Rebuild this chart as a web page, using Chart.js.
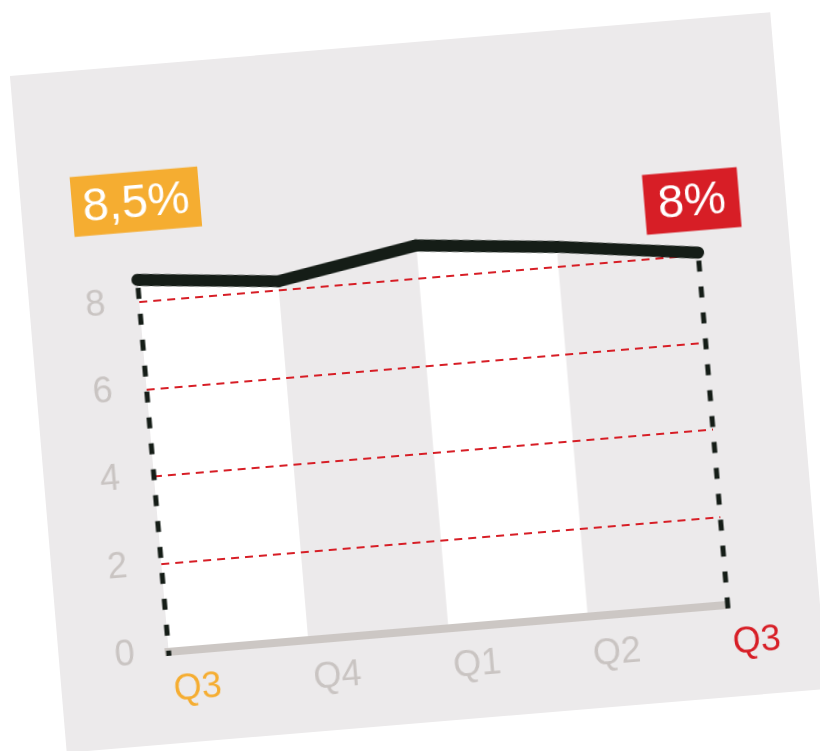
<!DOCTYPE html>
<html>
<head>
<meta charset="utf-8">
<script src="https://cdn.jsdelivr.net/npm/chart.js@4/dist/chart.umd.min.js"></script>
<style>
  html, body { margin: 0; padding: 0; background: #fff; }
  body { width: 820px; height: 751px; position: relative; overflow: hidden; }
  #panel {
    position: absolute; left: 37px; top: 43px;
    width: 763px; height: 679px;
    background: #ECEAEB;
    transform: rotate(-4.8deg);
  }
  #chart { position: absolute; left: 0; top: 0; }
</style>
</head>
<body>
<div id="panel"><canvas id="chart" width="763" height="679"></canvas></div>
<script>
// quarters and rate (%)
const quarters = ["Q3", "Q4", "Q1", "Q2", "Q3"];
const rates = [8.5, 8.2, 8.75, 8.45, 8.05];
const yTicks = [0, 2, 4, 6, 8];
const quarterColors = ["#F5AD31", "#C9C4C2", "#C9C4C2", "#C9C4C2", "#D71E26"];

// callouts above first / last point
const calloutIndex = [0, 4];
const calloutText = ["8,5%", "8%"];
const calloutColor = ["#F5AD31", "#D71E26"];

const FONT = "'Liberation Sans', Arial, sans-serif";

// dashed black drops + callout boxes
const extrasPlugin = {
  id: "extras",
  beforeDatasetsDraw(chart) {
    const ctx = chart.ctx;
    const meta = chart.getDatasetMeta(0);
    const y0 = chart.scales.y.getPixelForValue(0);
    ctx.save();
    ctx.strokeStyle = "#151D17";
    ctx.lineWidth = 5;
    ctx.setLineDash([11, 15]);
    [0, meta.data.length - 1].forEach(i => {
      const p = meta.data[i];
      ctx.beginPath();
      ctx.moveTo(p.x, p.y + 8);
      ctx.lineTo(p.x, y0 + 4);
      ctx.stroke();
    });
    ctx.restore();
  },
  afterDatasetsDraw(chart) {
    const ctx = chart.ctx;
    const meta = chart.getDatasetMeta(0);
    const boxes = [
      { w: 128, h: 60, dx: 5, dy: -78 },
      { w: 95, h: 60, dx: -2, dy: -52 }
    ];
    ctx.save();
    calloutIndex.forEach((idx, k) => {
      const p = meta.data[idx];
      const b = boxes[k];
      const cx = p.x + b.dx, cy = p.y + b.dy;
      ctx.fillStyle = calloutColor[k];
      ctx.fillRect(cx - b.w / 2, cy - b.h / 2, b.w, b.h);
      ctx.fillStyle = "#fff";
      ctx.font = "47px " + FONT;
      ctx.textAlign = "center";
      ctx.textBaseline = "middle";
      ctx.fillText(calloutText[k], cx, cy + 2);
    });
    ctx.restore();
  }
};

new Chart(document.getElementById("chart"), {
  type: "line",
  data: {
    labels: quarters,
    datasets: [{
      data: rates,
      borderColor: "#151D17",
      borderWidth: 12,
      borderCapStyle: "round",
      borderJoinStyle: "miter",
      tension: 0,
      pointRadius: 0,
      clip: false,
      fill: "origin",
      backgroundColor: "rgba(0,0,0,0)",
      segment: {
        backgroundColor: c => c.p0DataIndex % 2 === 0 ? "#FFFFFF" : "rgba(0,0,0,0)"
      }
    }]
  },
  options: {
    responsive: false,
    animation: false,
    layout: { padding: { left: 0, right: 92, top: 60, bottom: 0 } },
    plugins: {
      legend: { display: false },
      tooltip: { enabled: false },
      filler: { drawTime: "beforeDraw" }
    },
    scales: {
      x: {
        offset: false,
        grid: { drawOnChartArea: false, drawTicks: false, color: "rgba(0,0,0,0)" },
        border: { display: true, color: "#CCC7C4", width: 8 },
        ticks: {
          padding: 17,
          labelOffset: 26,
          maxRotation: 0,
          autoSkip: false,
          font: { family: FONT, size: 36 },
          color: c => quarterColors[c.index]
        },
        afterFit: s => { s.height = 92; }
      },
      y: {
        min: 0,
        max: 12,
        afterBuildTicks: s => { s.ticks = yTicks.map(v => ({ value: v })); },
        afterFit: s => { s.width = 110; },
        grid: {
          drawTicks: false,
          lineWidth: 2,
          color: c => (c.tick && c.tick.value > 0) ? "#D71E26" : "rgba(0,0,0,0)"
        },
        border: { display: false, dash: [8, 6] },
        ticks: {
          padding: 34,
          font: { family: FONT, size: 36 },
          color: "#C9C4C2"
        }
      }
    }
  },
  plugins: [extrasPlugin]
});
</script>
</body>
</html>
